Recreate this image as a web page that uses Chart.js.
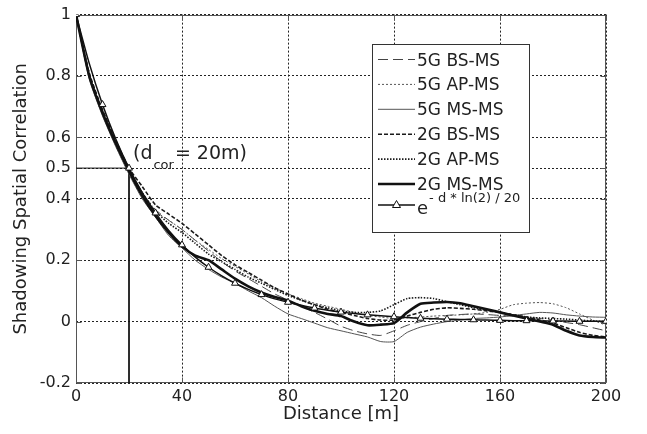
<!DOCTYPE html>
<html><head><meta charset="utf-8">
<script src="https://cdn.jsdelivr.net/npm/chart.js@4.4.0/dist/chart.umd.min.js"></script>
<style>html,body{margin:0;padding:0;background:#fff;}#wrap{width:647px;height:434px;}</style>
</head><body><div id="wrap"><canvas id="c" width="647" height="434"></canvas></div>
<script>
// ---- data ----
const distance = [0,5,10,15,20,25,30,35,40,45,50,55,60,65,70,75,80,85,90,95,100,105,110,115,120,125,130,135,140,145,150,155,160,165,170,175,180,185,190,195,200];
const bs5g = [1,0.80,0.68,0.58,0.49,0.42,0.365,0.33,0.30,0.265,0.23,0.195,0.165,0.14,0.115,0.09,0.07,0.05,0.03,0.008,-0.015,-0.03,-0.04,-0.045,-0.03,-0.012,0,0.01,0.02,0.023,0.025,0.023,0.02,0.018,0.015,0.01,0.005,-0.003,-0.01,-0.02,-0.03];
const ap5g = [1,0.81,0.69,0.59,0.50,0.42,0.36,0.33,0.30,0.265,0.235,0.205,0.18,0.155,0.13,0.11,0.09,0.075,0.06,0.05,0.04,0.03,0.02,0.015,0.01,0.012,0.015,0.018,0.02,0.022,0.025,0.03,0.04,0.055,0.06,0.062,0.058,0.045,0.025,0.005,-0.012];
const ms5g = [1,0.79,0.67,0.57,0.48,0.40,0.34,0.28,0.24,0.20,0.17,0.145,0.125,0.10,0.078,0.05,0.025,0.01,-0.005,-0.02,-0.03,-0.04,-0.05,-0.065,-0.065,-0.035,-0.018,-0.008,0,0.005,0.01,0.012,0.015,0.02,0.025,0.03,0.028,0.022,0.018,0.015,0.014];
const bs2g = [1,0.81,0.69,0.59,0.50,0.44,0.38,0.35,0.32,0.285,0.25,0.215,0.185,0.16,0.135,0.11,0.09,0.07,0.055,0.04,0.03,0.02,0.01,0.005,0.005,0.018,0.03,0.04,0.045,0.043,0.04,0.035,0.03,0.022,0.015,0.005,-0.005,-0.02,-0.035,-0.045,-0.05];
const ap2g = [1,0.80,0.685,0.585,0.495,0.42,0.36,0.32,0.29,0.255,0.22,0.195,0.17,0.145,0.125,0.105,0.085,0.07,0.055,0.045,0.035,0.03,0.03,0.035,0.055,0.075,0.078,0.075,0.065,0.055,0.045,0.037,0.03,0.022,0.015,0.012,0.01,0.008,0.005,0.002,0];
const ms2g = [1,0.80,0.68,0.58,0.49,0.41,0.345,0.29,0.245,0.215,0.20,0.17,0.14,0.115,0.095,0.08,0.068,0.05,0.035,0.025,0.018,0,-0.012,-0.01,-0.005,0.03,0.058,0.062,0.064,0.06,0.05,0.04,0.03,0.02,0.01,0,-0.01,-0.03,-0.045,-0.05,-0.052];
const expModel = [1,0.841,0.707,0.595,0.5,0.42,0.354,0.297,0.25,0.21,0.177,0.149,0.125,0.105,0.088,0.074,0.063,0.053,0.044,0.037,0.031,0.026,0.022,0.019,0.016,0.013,0.011,0.009,0.008,0.007,0.006,0.005,0.004,0.003,0.003,0.002,0.002,0.002,0.001,0.001,0.001];
const seriesNames = ['5G BS-MS','5G AP-MS','5G MS-MS','2G BS-MS','2G AP-MS','2G MS-MS'];
const dcorX = [0,20,20];
const dcorY = [0.5,0.5,-0.2];
const xTicks = [0,40,80,120,160,200];
const yTicks = [1,0.8,0.6,0.5,0.4,0.2,0,-0.2];
const yTickLabels = ['1','0.8','0.6','0.5','0.4','0.2','0','-0.2'];

// ---- build ----
const FONT = 'DejaVu Sans';
const TXT = '#222';
const pts = arr => distance.map((d,i)=>({x:d,y:arr[i]}));
const styles = [
  {color:'#444', width:1, dash:[10,5]},
  {color:'#555', width:1, dash:[2,2]},
  {color:'#555', width:1, dash:[]},
  {color:'#1a1a1a', width:1.6, dash:[4,2]},
  {color:'#1a1a1a', width:1.6, dash:[1.5,1.5]},
  {color:'#111', width:2.6, dash:[]}
];
const measured = [bs5g, ap5g, ms5g, bs2g, ap2g, ms2g];
const datasets = measured.map((arr,k)=>({
  label: seriesNames[k], data: pts(arr), showLine:true, pointRadius:0,
  borderColor: styles[k].color, borderWidth: styles[k].width, borderDash: styles[k].dash,
  tension: 0.2, order: 6-k+1
}));
datasets.push({
  label:'exp', data: pts(expModel), showLine:true,
  pointRadius: distance.map((d,i)=> i%2===0 ? 4 : 0),
  pointStyle:'triangle', pointBackgroundColor:'#fff', pointBorderColor:'#111', pointBorderWidth:1,
  borderColor:'#111', borderWidth:1.5, tension:0.2, order:0
});
datasets.push({
  label:'dcor', data: dcorX.map((x,i)=>({x, y:dcorY[i]})), showLine:true, pointRadius:0,
  borderColor:'#111', borderWidth:1, tension:0, order:8
});

const framePlugin = {
  id:'frame',
  beforeDatasetsDraw(chart){
    const {ctx, chartArea:a, scales:{x, y}} = chart;
    ctx.save();
    ctx.strokeStyle = '#555'; ctx.lineWidth = 1; ctx.setLineDash([]);
    const L = Math.round(a.left)+0.5, R = Math.round(a.right)-0.5, T = Math.round(a.top)+0.5, B = Math.round(a.bottom)-0.5;
    ctx.strokeRect(L, T, R-L, B-T);
    ctx.beginPath();
    xTicks.forEach(v=>{ const px = Math.round(x.getPixelForValue(v))+0.5; ctx.moveTo(px,B); ctx.lineTo(px,B-5); ctx.moveTo(px,T); ctx.lineTo(px,T+5); });
    yTicks.forEach(v=>{ const py = Math.round(y.getPixelForValue(v))+0.5; ctx.moveTo(L,py); ctx.lineTo(L+5,py); ctx.moveTo(R,py); ctx.lineTo(R-5,py); });
    ctx.stroke();
    ctx.restore();
  }
};

const overlayPlugin = {
  id:'overlay',
  afterDraw(chart){
    const {ctx, scales:{x, y}} = chart;
    ctx.save();
    // annotation (d_cor = 20m)
    ctx.fillStyle = TXT; ctx.textBaseline = 'alphabetic'; ctx.textAlign = 'left';
    const ax = x.getPixelForValue(21.5), ab = y.getPixelForValue(0.53);
    ctx.font = `19px "${FONT}"`;
    ctx.fillText('(d', ax, ab);
    let w = ctx.measureText('(d').width;
    ctx.font = `13px "${FONT}"`;
    ctx.fillText('cor', ax + w + 1, ab + 10);
    let w2 = ctx.measureText('cor').width;
    ctx.font = `19px "${FONT}"`;
    ctx.fillText('= 20m)', ax + w + w2 + 2, ab);

    // legend
    const bx = 372.5, by = 44.5, bw = 157, bh = 188;
    ctx.fillStyle = '#fff'; ctx.fillRect(bx, by, bw, bh);
    ctx.strokeStyle = '#333'; ctx.lineWidth = 1; ctx.setLineDash([]);
    ctx.strokeRect(bx, by, bw, bh);
    const x0 = 378, x1 = 415, tx = 417;
    for (let k=0;k<6;k++){
      const ly = 59.5 + k*24.9;
      ctx.strokeStyle = styles[k].color; ctx.lineWidth = styles[k].width; ctx.setLineDash(styles[k].dash);
      ctx.beginPath(); ctx.moveTo(x0, ly); ctx.lineTo(x1, ly); ctx.stroke();
      ctx.setLineDash([]);
      ctx.fillStyle = TXT; ctx.font = `17px "${FONT}"`;
      ctx.fillText(seriesNames[k], tx, ly + 6);
    }
    const ly = 205;
    ctx.strokeStyle = '#111'; ctx.lineWidth = 1.5; ctx.setLineDash([]);
    ctx.beginPath(); ctx.moveTo(x0, ly); ctx.lineTo(x1, ly); ctx.stroke();
    ctx.beginPath(); ctx.moveTo(396.5, ly-4.5); ctx.lineTo(400.5, ly+2.5); ctx.lineTo(392.5, ly+2.5); ctx.closePath();
    ctx.fillStyle = '#fff'; ctx.fill(); ctx.lineWidth = 1; ctx.stroke();
    ctx.fillStyle = TXT; ctx.font = `18px "${FONT}"`;
    ctx.fillText('e', tx, 214);
    const ew = ctx.measureText('e').width;
    ctx.font = `13px "${FONT}"`;
    ctx.fillText('- d * ln(2) / 20', tx + ew + 1, 202);
    ctx.restore();
  }
};

new Chart(document.getElementById('c'), {
  type:'scatter',
  data:{datasets},
  options:{
    responsive:false, animation:false, devicePixelRatio:1,
    layout:{padding:{left:0, top:11, right:41, bottom:0}},
    plugins:{legend:{display:false}, tooltip:{enabled:false}},
    scales:{
      x:{
        type:'linear', min:0, max:200,
        afterBuildTicks: s => { s.ticks = xTicks.map(v=>({value:v})); },
        afterFit: s => { s.height = 51; },
        ticks:{font:{family:FONT, size:16}, color:TXT, padding:4, maxRotation:0, autoSkip:false, callback:v=>String(v)},
        grid:{color:'#222', lineWidth:1, drawTicks:false},
        border:{display:false, dash:[2,2]},
        title:{display:true, text:'Distance [m]', color:TXT, font:{family:FONT, size:18}, padding:{top:0, bottom:9}}
      },
      y:{
        type:'linear', min:-0.2, max:1,
        afterBuildTicks: s => { s.ticks = yTicks.map(v=>({value:v})); },
        afterFit: s => { s.width = 76; },
        ticks:{font:{family:FONT, size:16}, color:TXT, padding:5, autoSkip:false,
          callback:(v)=>{ const i = yTicks.findIndex(t=>Math.abs(t-v)<1e-9); return i>=0 ? yTickLabels[i] : ''; }},
        grid:{color:'#222', lineWidth:1, drawTicks:false},
        border:{display:false, dash:[2,2]},
        title:{display:true, text:'Shadowing Spatial Correlation', color:TXT, font:{family:FONT, size:18}, padding:{top:11, bottom:0}}
      }
    }
  },
  plugins:[framePlugin, overlayPlugin]
});
</script>
</body></html>
